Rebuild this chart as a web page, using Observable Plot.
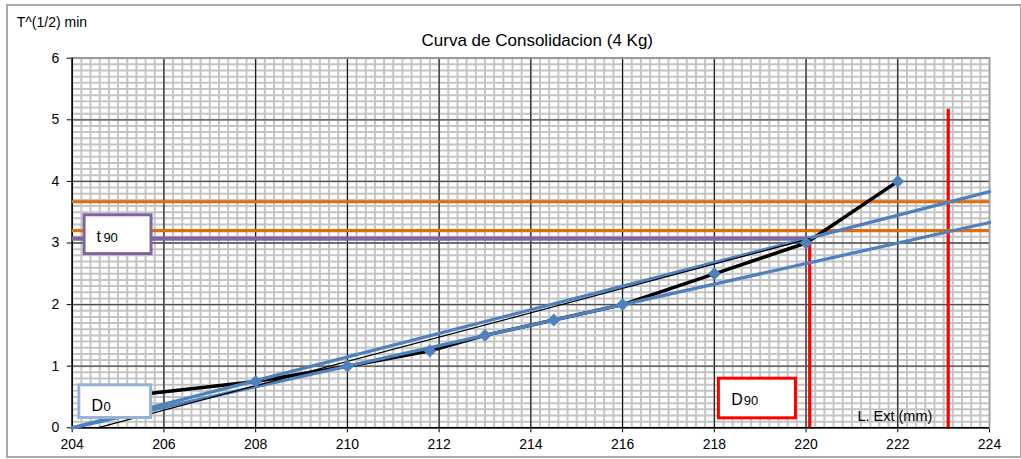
<!DOCTYPE html>
<html>
<head>
<meta charset="utf-8">
<script src="https://cdn.jsdelivr.net/npm/d3@7"></script>
<script src="https://cdn.jsdelivr.net/npm/@observablehq/plot@0.6"></script>
<style>
  body { margin: 0; background: #fff; font-family: "Liberation Sans", Arial, sans-serif; }
  #wrap { position: relative; width: 1021px; height: 459px; }
  #border { position: absolute; left: 6px; top: 4px; width: 1012px; height: 450px; border: 2px solid #a9a9a9; pointer-events: none; }
  #wrap svg { position: absolute; left: 0; top: 0; overflow: visible; }
</style>
</head>
<body>
<div id="wrap"><div id="border"></div></div>
<script>
// ---- data ----
const lecturaExt = [205, 208, 210, 211.8, 213, 214.5, 216, 218, 220, 222];      // L. Ext (mm)
const raizTiempo = [0.5, 0.75, 1, 1.25, 1.5, 1.75, 2, 2.5, 3, 4];               // T^(1/2) min
const xTicks = [204, 206, 208, 210, 212, 214, 216, 218, 220, 222, 224];
const yTicks = [0, 1, 2, 3, 4, 5, 6];

// construction lines (Taylor method)
const rectaInicialX = [204, 224];
const rectaInicialY = [0, 3.333];
const rectaCorregidaX = [204, 224];
const rectaCorregidaY = [0, 3.833];
const rectaFinaX = [204.55, 220.08];
const rectaFinaY = [0, 3.07];
const horizontalesNaranja = [3.67, 3.2];
const t90Valor = 3.07;
const d90Valor = 220.08;
const verticalDerechaX = 223.1;
const verticalDerechaTope = 5.17;

const titulo = "Curva de Consolidacion (4 Kg)";
const etiquetaY = "T^(1/2) min";
const etiquetaX = "L. Ext (mm)";

// ---- build tables ----
const datos = lecturaExt.map((x, i) => ({x, y: raizTiempo[i]}));
const recta = (xs, ys) => xs.map((x, i) => ({x, y: ys[i]}));
const minorX = d3.range(204, 224.001, 0.2).map(v => +v.toFixed(2));
const minorY = d3.range(0, 6.001, 0.1).map(v => +v.toFixed(2));

// annotation boxes (layout, in data units)
const cajas = [
  {x1: 204.27, x2: 205.73, y1: 2.82, y2: 3.45, c: "#8064a2"},
  {x1: 204.155, x2: 205.72, y1: 0.16, y2: 0.69, c: "#95b3d7"},
  {x1: 218.10, x2: 219.78, y1: 0.154, y2: 0.797, c: "#ff0000"}
];
const letrasGrandes = [
  {x: 204.53, y: 3.024, t: "t"},
  {x: 204.42, y: 0.265, t: "D"},
  {x: 218.37, y: 0.378, t: "D"}
];
const letrasChicas = [
  {x: 204.68, y: 3.024, t: "90"},
  {x: 204.685, y: 0.265, t: "0"},
  {x: 218.64, y: 0.378, t: "90"}
];

const blue = "#4f81bd";

const plot = Plot.plot({
  width: 1021,
  height: 459,
  marginLeft: 71.7,
  marginRight: 32,
  marginTop: 57.7,
  marginBottom: 31.7,
  style: {fontFamily: "'Liberation Sans', Arial, sans-serif", fontSize: "14px", background: "transparent", color: "#000", overflow: "visible"},
  x: {domain: [204, 224], ticks: xTicks, tickSize: 5, tickPadding: 6, label: null, tickFormat: d => String(d)},
  y: {domain: [0, 6], ticks: yTicks, tickSize: 5, tickPadding: 8, label: null, tickFormat: d => String(d)},
  marks: [
    Plot.ruleX(minorX, {stroke: "#c4c4c4", strokeWidth: 2}),
    Plot.ruleY(minorY, {stroke: "#c4c4c4", strokeWidth: 2}),
    Plot.ruleX(xTicks, {stroke: "#000", strokeWidth: 1}),
    Plot.ruleY(yTicks, {stroke: "#505050", strokeWidth: 1.3}),
    Plot.frame({stroke: "#a0a0a0", strokeWidth: 1.5}),
    Plot.ruleX([204], {stroke: "#000", strokeWidth: 1.5}),
    Plot.ruleY([0], {stroke: "#000", strokeWidth: 1.5}),
    // red verticals
    Plot.ruleX([{x: d90Valor, y1: 0, y2: t90Valor}, {x: verticalDerechaX, y1: 0, y2: verticalDerechaTope}],
      {x: "x", y1: "y1", y2: "y2", stroke: "#ff0000", strokeWidth: 3.2}),
    // orange horizontals
    Plot.ruleY(horizontalesNaranja, {stroke: "#e46c0a", strokeWidth: 3.2}),
    // purple t90 line
    Plot.ruleY([{y: t90Valor, x1: 204, x2: d90Valor}], {y: "y", x1: "x1", x2: "x2", stroke: "#8064a2", strokeWidth: 4.2}),
    // data line
    Plot.line(datos, {x: "x", y: "y", stroke: "#000", strokeWidth: 3.5}),
    // blue construction lines
    Plot.line(recta(rectaInicialX, rectaInicialY), {x: "x", y: "y", stroke: blue, strokeWidth: 3.3}),
    Plot.line(recta(rectaCorregidaX, rectaCorregidaY), {x: "x", y: "y", stroke: blue, strokeWidth: 3.3}),
    // thin black line
    Plot.line(recta(rectaFinaX, rectaFinaY), {x: "x", y: "y", stroke: "#000", strokeWidth: 1.2}),
    // markers
    Plot.dot(datos, {x: "x", y: "y", symbol: "diamond2", r: 5.6, fill: blue, stroke: blue, strokeWidth: 0.5}),
    // boxes
    Plot.rect(cajas, {x1: "x1", x2: "x2", y1: "y1", y2: "y2", fill: "#fff", stroke: "c", strokeWidth: 3}),
    Plot.text(letrasGrandes, {x: "x", y: "y", text: "t", textAnchor: "start", lineAnchor: "bottom", fontSize: 16}),
    Plot.text(letrasChicas, {x: "x", y: "y", text: "t", textAnchor: "start", lineAnchor: "bottom", fontSize: 13}),
    // texts
    Plot.text([titulo], {x: 214.14, y: 6.29, fontSize: 17, textAnchor: "middle"}),
    Plot.text([etiquetaY], {x: 202.79, y: 6.585, fontSize: 14, textAnchor: "start"}),
    Plot.text([etiquetaX], {x: 221.12, y: 0.18, fontSize: 14.5, textAnchor: "start"})
  ]
});
document.getElementById("wrap").appendChild(plot);
</script>
</body>
</html>
